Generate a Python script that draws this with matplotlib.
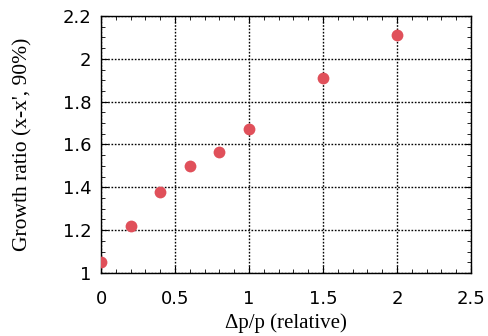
import matplotlib
matplotlib.use("Agg")
import matplotlib.pyplot as plt
from matplotlib.ticker import MultipleLocator, FormatStrFormatter

# data
dp = [0.0, 0.2, 0.4, 0.6, 0.8, 1.0, 1.5, 2.0]
growth = [1.05, 1.22, 1.38, 1.50, 1.565, 1.67, 1.91, 2.11]

fig = plt.figure(figsize=(4.88, 3.36), dpi=100)
ax = fig.add_axes([0.207, 0.1875, 0.758, 0.765])

ax.plot(dp, growth, 'o', color='#e0505a', markersize=8.5, markeredgewidth=0, zorder=3)

ax.set_xlim(0, 2.5)
ax.set_ylim(1, 2.2)
ax.xaxis.set_major_locator(MultipleLocator(0.5))
ax.xaxis.set_minor_locator(MultipleLocator(0.1))
ax.yaxis.set_major_locator(MultipleLocator(0.2))
ax.yaxis.set_minor_locator(MultipleLocator(0.05))
ax.xaxis.set_major_formatter(FormatStrFormatter('%g'))
ax.yaxis.set_major_formatter(FormatStrFormatter('%g'))

ax.tick_params(which='both', direction='in', top=True, right=True, color='black')
ax.tick_params(which='major', length=5, labelsize=13)
ax.tick_params(axis='x', which='major', pad=12)
ax.tick_params(axis='y', which='major', pad=7)
ax.tick_params(which='minor', length=3)
for lab in ax.get_xticklabels() + ax.get_yticklabels():
    lab.set_fontfamily('DejaVu Sans')

ax.grid(True, which='major', linestyle=(0, (1.2, 1.2)), color='black', linewidth=1)
for s in ax.spines.values():
    s.set_linewidth(1)

ax.set_xlabel('Δp/p (relative)', family='Liberation Serif', fontsize=15, labelpad=4)
ax.set_ylabel("Growth ratio (x-x', 90%)", family='Liberation Serif', fontsize=15.5, labelpad=22)

fig.savefig('out.png', dpi=100)
